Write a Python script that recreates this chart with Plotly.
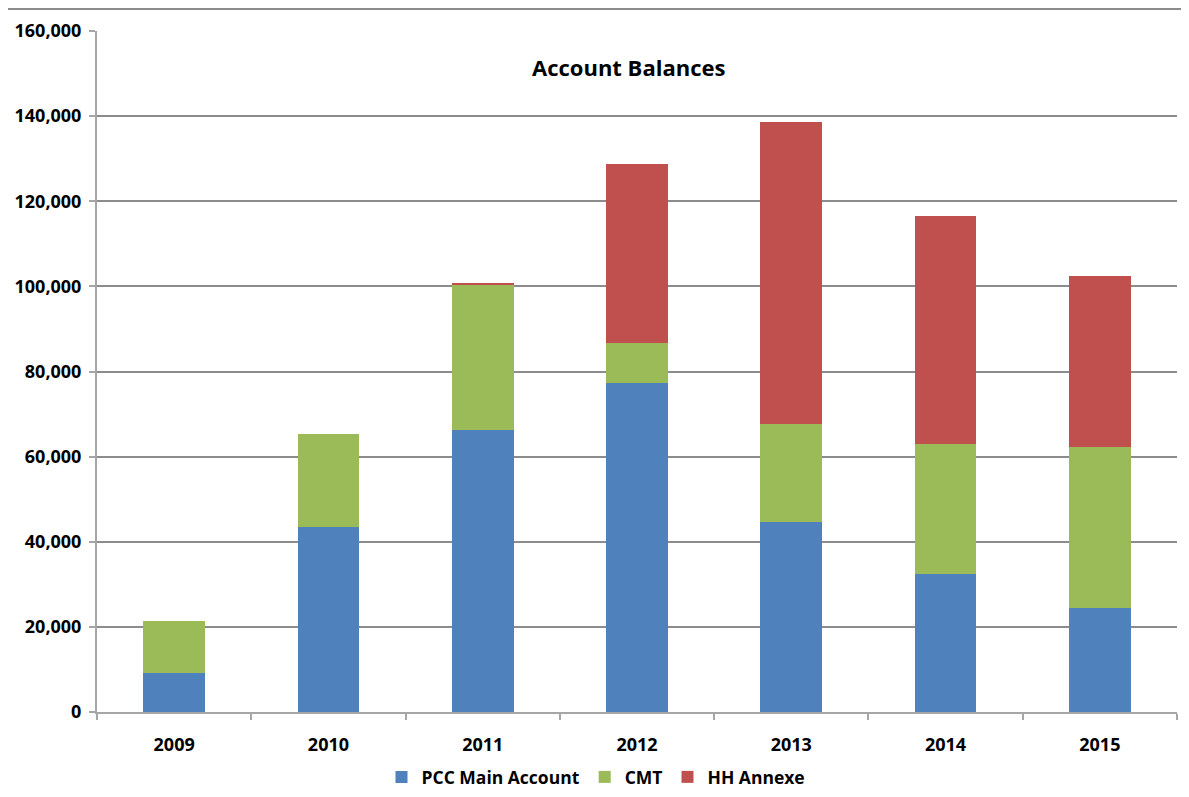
import plotly.graph_objects as go

years = ["2009", "2010", "2011", "2012", "2013", "2014", "2015"]
pcc_main = [9100, 43350, 66350, 77400, 44750, 32400, 24550]
cmt = [12200, 22050, 34050, 9400, 23000, 30450, 37800]
hh_annexe = [0, 0, 500, 42000, 70900, 53750, 40150]
y_ticks = [0, 20000, 40000, 60000, 80000, 100000, 120000, 140000, 160000]
y_tick_labels = ["0", "20,000", "40,000", "60,000", "80,000", "100,000", "120,000", "140,000", "160,000"]

OFF = 8  # page body margin
W, H = 1189 - OFF, 797 - OFF
# plot area in page pixels: x 97..1177, y 31..712
L, T = 97 - OFF, 31 - OFF
pw, ph = 1080, 681
R = W - L - pw
B = H - T - ph

def px_x(x):
    return (x - OFF - L) / pw

def px_y(y):
    return (T + ph - (y - OFF)) / ph

font_family = "Open Sans"

fig = go.Figure()
fig.add_trace(go.Bar(name="PCC Main Account", x=years, y=pcc_main, marker_color="#4F81BD", marker_line_width=0))
fig.add_trace(go.Bar(name="CMT", x=years, y=cmt, marker_color="#9BBB59", marker_line_width=0))
fig.add_trace(go.Bar(name="HH Annexe", x=years, y=hh_annexe, marker_color="#C0504D", marker_line_width=0))

fig.update_layout(
    width=W, height=H,
    margin=dict(l=L, r=R, t=T, b=B, autoexpand=False),
    barmode="stack",
    bargap=0.6,
    paper_bgcolor="white",
    plot_bgcolor="white",
    font=dict(family=font_family, size=18, color="black", weight="bold"),
    showlegend=True,
    legend=dict(
        orientation="h",
        x=px_x(596), xanchor="center",
        y=px_y(777), yanchor="middle",
        font=dict(family=font_family, size=17.5, color="black", weight="bold"),
        traceorder="normal",
        itemwidth=30,
    ),
    annotations=[dict(
        text="Account Balances",
        x=px_x(628), y=px_y(67), xref="paper", yref="paper",
        xanchor="center", yanchor="middle", showarrow=False,
        font=dict(family=font_family, size=22, color="black", weight="bold"),
    )],
    shapes=[dict(
        type="rect", xref="paper", yref="paper",
        x0=px_x(6), x1=px_x(1200), y0=px_y(810), y1=px_y(9),
        line=dict(color="#8c8c8c", width=2), fillcolor="rgba(0,0,0,0)",
        layer="below",
    )],
)

fig.update_xaxes(
    type="category",
    showline=True, linecolor="#a6a6a6", linewidth=2,
    ticks="outside", ticklen=6, tickcolor="#a6a6a6", tickwidth=1.5,
    tickson="boundaries",
    showgrid=False,
    ticklabelstandoff=15,
    tickfont=dict(family=font_family, size=18, color="black", weight="bold"),
)
fig.update_yaxes(
    range=[0, 160000],
    tickvals=y_ticks, ticktext=y_tick_labels,
    showline=True, linecolor="#a6a6a6", linewidth=2,
    ticks="outside", ticklen=6, tickcolor="#a6a6a6", tickwidth=1.5,
    showgrid=True, gridcolor="#8c8c8c", gridwidth=1.5,
    zeroline=False,
    ticklabelstandoff=4,
    tickfont=dict(family=font_family, size=18, color="black", weight="bold"),
)

fig.write_html("out.html")
